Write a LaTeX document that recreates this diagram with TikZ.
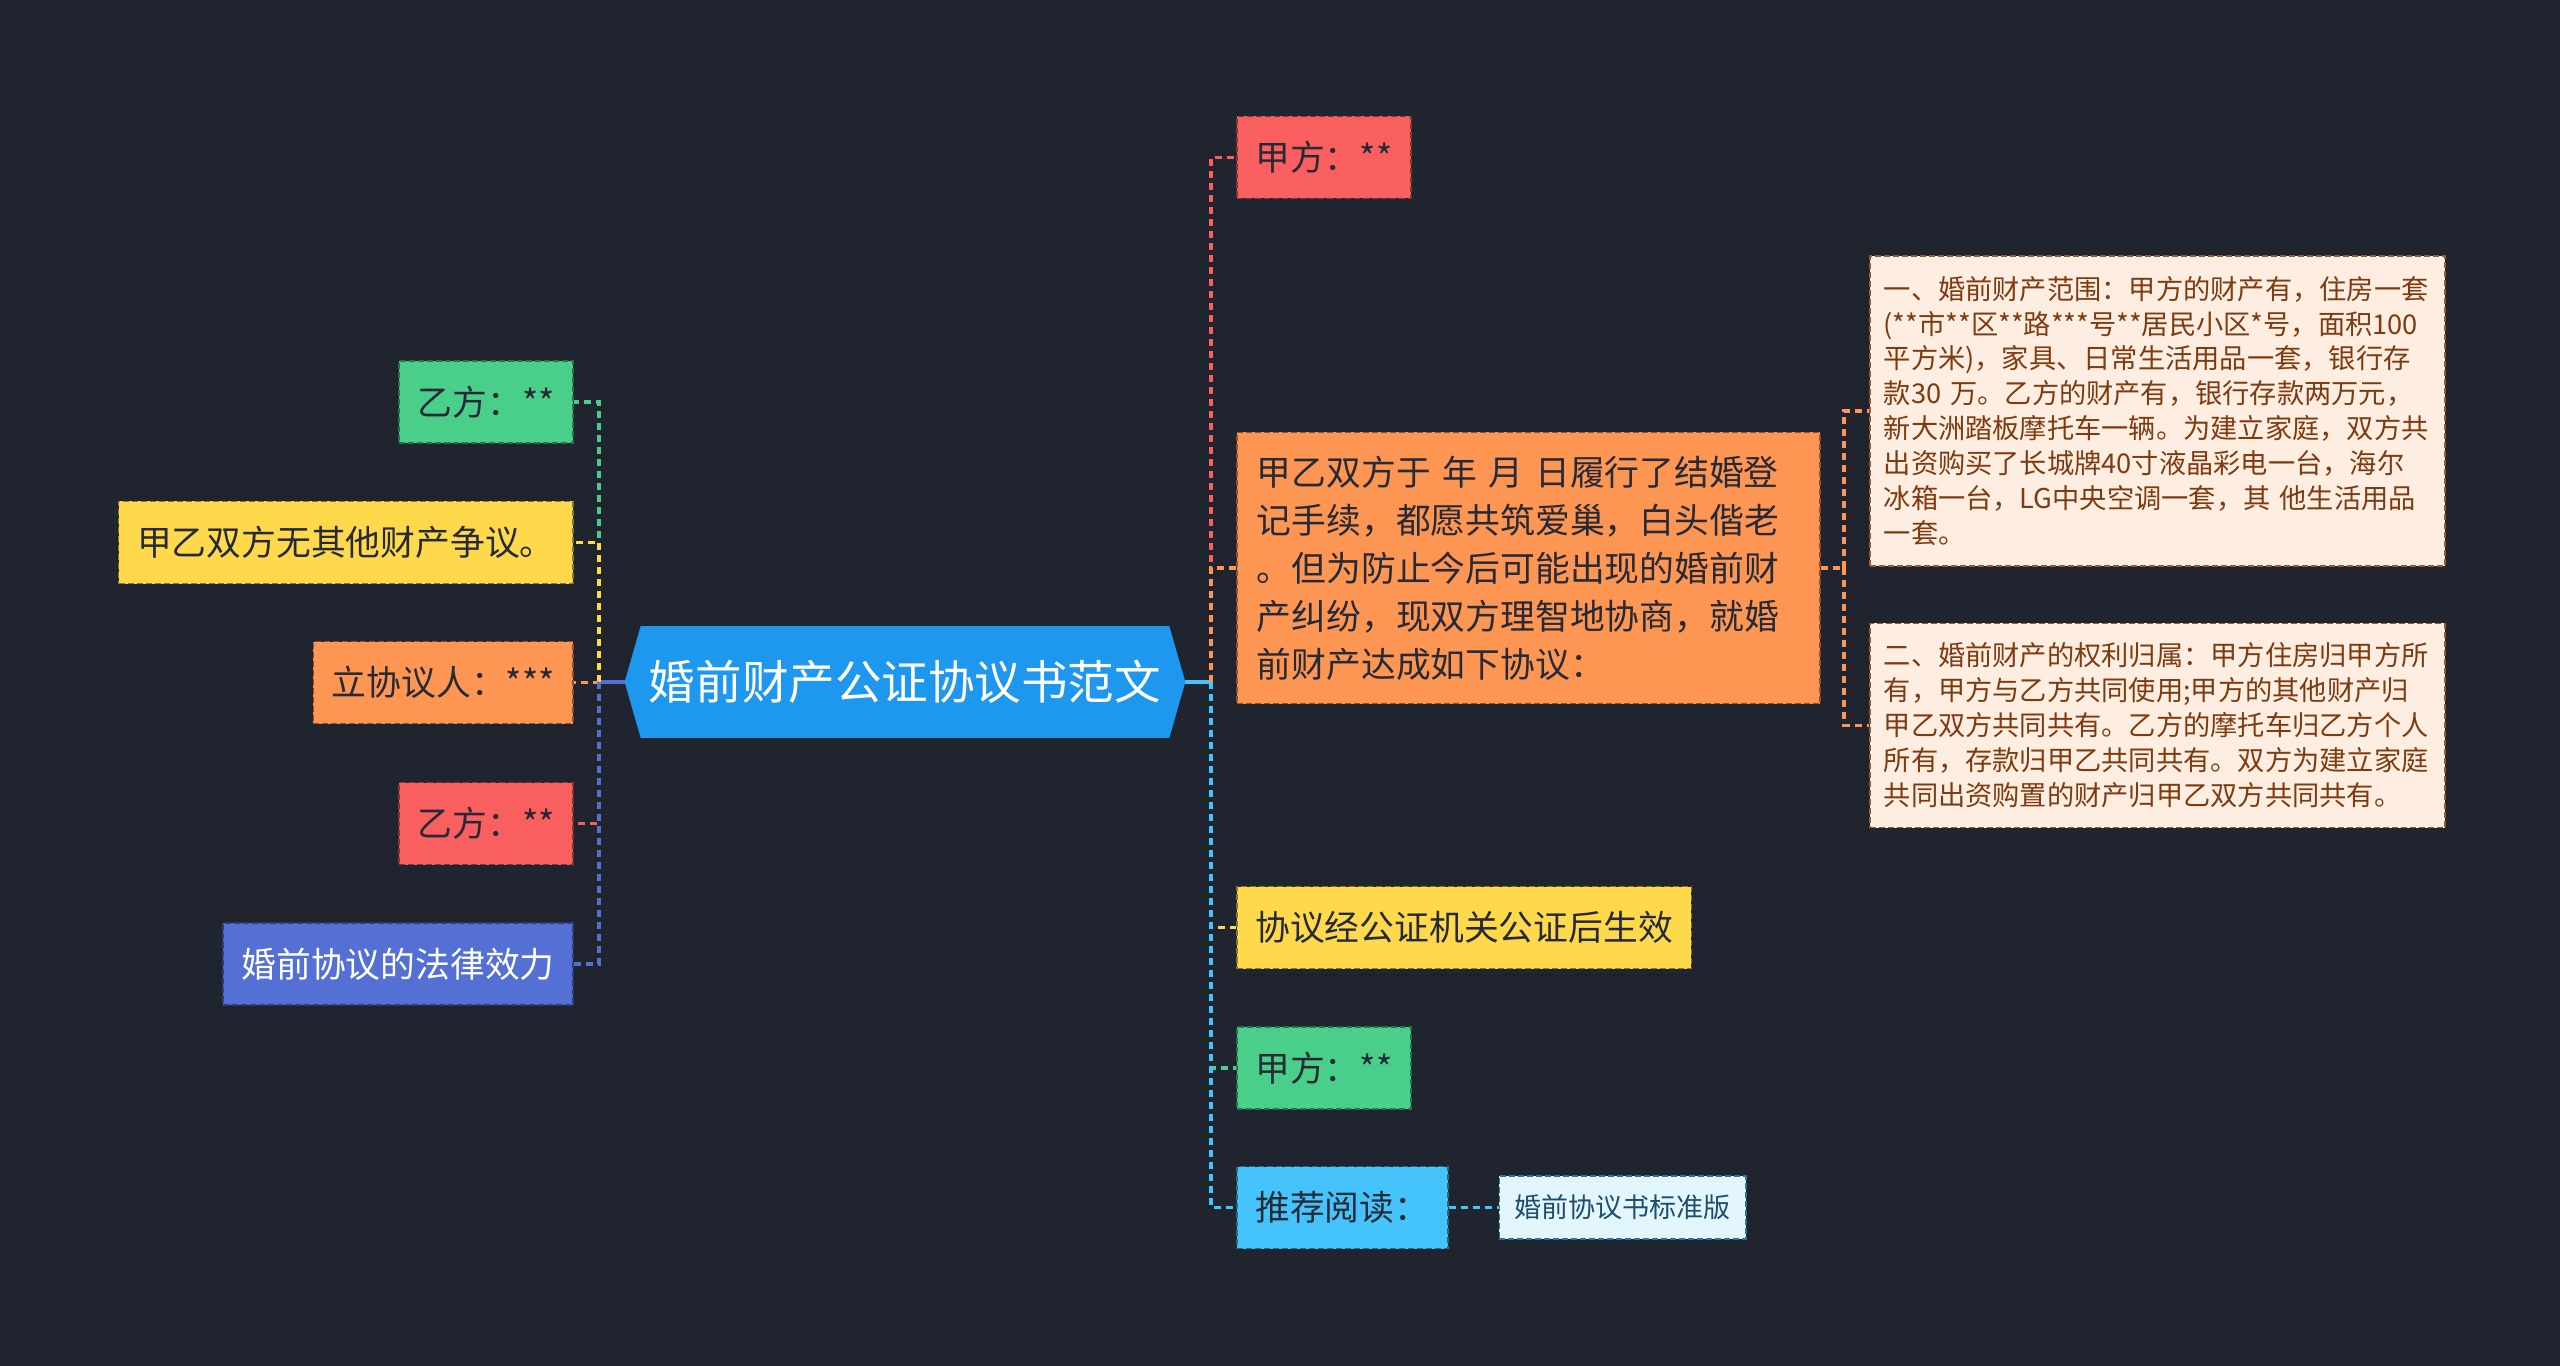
\documentclass[tikz,border=0pt]{standalone}
\usepackage{fontspec}
\setmainfont{Noto Sans CJK SC}
\usetikzlibrary{positioning,backgrounds}
\definecolor{Night}{HTML}{20242F}
\definecolor{Ocean}{HTML}{1E97EE}
\definecolor{Grass}{HTML}{4ACF8B}
\definecolor{Sun}{HTML}{FDD94B}
\definecolor{Apricot}{HTML}{FD9652}
\definecolor{Coral}{HTML}{F95F5F}
\definecolor{Violet}{HTML}{5570D5}
\definecolor{Sky}{HTML}{45C4FB}
\definecolor{Ice}{HTML}{E3F5FD}
\definecolor{Peach}{HTML}{FEEDE1}
\definecolor{Rust}{HTML}{7E3B10}
\definecolor{Ink}{HTML}{262A36}
\definecolor{Deep}{HTML}{1E4E6E}
\tikzset{
  map root/.style={rectangle,minimum width=112mm,minimum height=22.2mm,
    text=white,font=\fontsize{26.5pt}{30pt}\selectfont,inner sep=0pt},
  map leaf/.style={rectangle,fill=#1,draw=#1!55!black,line width=.35mm,
    dash pattern=on 1.2mm off .6mm,text=Ink,inner xsep=3.7mm,
    minimum height=16.4mm,font=\fontsize{19.8pt}{27.3pt}\selectfont},
  map note/.style={rectangle,fill=Peach,draw=Apricot!60!black,line width=.3mm,
    dash pattern=on 1.2mm off .6mm,text=Rust,align=left,text width=109.4mm,
    inner xsep=2.8mm,font=\fontsize{15.5pt}{19.9pt}\selectfont},
  map tag/.style={rectangle,fill=Ice,draw=Sky!60!black,line width=.3mm,
    dash pattern=on 1.2mm off .6mm,text=Deep,inner xsep=3mm,
    minimum height=12.6mm,font=\fontsize{15.4pt}{18pt}\selectfont},
  map link/.style={draw=#1,line width=.65mm,dash pattern=on 1.4mm off 1mm},
  map trunk/.style={draw=#1,line width=.7mm}
}
\begin{document}
\begin{tikzpicture}[x=0.2mm,y=-0.2mm]
  \useasboundingbox (0,0) rectangle (2560,1366);
  % centre topic
  \node[map root] (root) at (905,682) {婚前财产公证协议书范文};
  \begin{scope}[on background layer]
    \fill[Night] (0,0) rectangle (2560,1366);
    \fill[Ocean] (root.west) -- ([xshift=3.2mm]root.north west)
      -- ([xshift=-3.2mm]root.north east) -- (root.east)
      -- ([xshift=-3.2mm]root.south east) -- ([xshift=3.2mm]root.south west) -- cycle;
  \end{scope}
  \coordinate (lhub) at (599,682);
  \coordinate (rhub) at (1211,682);
  \coordinate (shub) at (1844,568);

  % left branches
  \node[map leaf=Grass,anchor=east] (partyb) at (574,402) {乙方：**};
  \node[map leaf=Sun,anchor=east] (nodispute) at (574,542.5) {甲乙双方无其他财产争议。};
  \node[map leaf=Apricot,anchor=east] (signer) at (574,682.5) {立协议人：***};
  \node[map leaf=Coral,anchor=east] (partyb2) at (574,823.5) {乙方：**};
  \node[map leaf=Violet,anchor=east,text=white] (effect) at (574,964) {婚前协议的法律效力};

  % right branches
  \node[map leaf=Coral,anchor=west] (partya) at (1236,157.5) {甲方：**};
  \node[map leaf=Apricot,anchor=west,align=left,text width=108.6mm,inner xsep=4mm,
    minimum height=54.2mm] (intro) at (1236,568)
    {甲乙双方于 年 月 日履行了结婚登\\记手续，都愿共筑爱巢，白头偕老\\。但为防止今后可能出现的婚前财\\产纠纷，现双方理智地协商，就婚\\前财产达成如下协议：};
  \node[map leaf=Sun,anchor=west] (notary) at (1236,927.5) {协议经公证机关公证后生效};
  \node[map leaf=Grass,anchor=west] (partya2) at (1236,1068) {甲方：**};
  \node[map leaf=Sky,anchor=west] (reading) at (1236,1207.5) {推荐阅读：};
  \node[map tag,right=10mm of reading] (standard) {婚前协议书标准版};

  % agreement clauses
  \node[map note,anchor=west,minimum height=62mm] (range) at (1869,411)
    {一、婚前财产范围：甲方的财产有，住房一套\\(**市**区**路***号**居民小区*号，面积100\\平方米)，家具、日常生活用品一套，银行存\\款30 万。乙方的财产有，银行存款两万元，\\新大洲踏板摩托车一辆。为建立家庭，双方共\\出资购买了长城牌40寸液晶彩电一台，海尔\\冰箱一台，LG中央空调一套，其 他生活用品\\一套。};
  \node[map note,anchor=west,minimum height=40.8mm] (rights) at (1869,725.5)
    {二、婚前财产的权利归属：甲方住房归甲方所\\有，甲方与乙方共同使用;甲方的其他财产归\\甲乙双方共同共有。乙方的摩托车归乙方个人\\所有，存款归甲乙共同共有。双方为建立家庭\\共同出资购置的财产归甲乙双方共同共有。};

  % connectors
  \draw[map trunk=Violet] (root.west) -- (lhub);
  \draw[map trunk=Sky] (root.east) -- (rhub);
  \foreach \n/\c in {partyb/Grass,nodispute/Sun,signer/Apricot,partyb2/Coral,effect/Violet}
    \draw[map link=\c] (lhub) |- (\n.east);
  \foreach \n/\c in {partya/Coral,intro/Apricot,notary/Sun,partya2/Grass,reading/Sky}
    \draw[map link=\c] (rhub) |- (\n.west);
  \draw[map link=Apricot] (intro.east) -- (shub);
  \foreach \n in {range,rights}
    \draw[map link=Apricot] (shub) |- (\n.west);
  \draw[map link=Sky] (reading) -- (standard);
\end{tikzpicture}
\end{document}
